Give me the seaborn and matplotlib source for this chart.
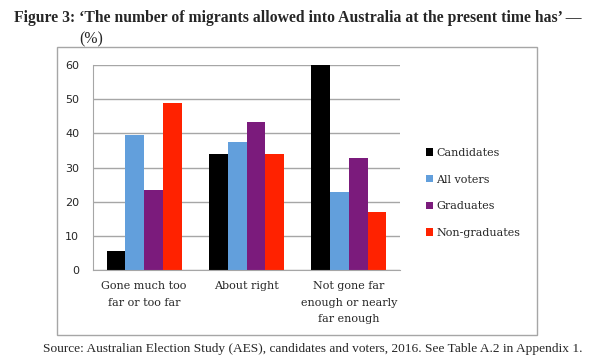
import numpy as np
import matplotlib
matplotlib.use("Agg")
import matplotlib.pyplot as plt
import seaborn as sns
import pandas as pd
from matplotlib.patches import Rectangle
from matplotlib.ticker import FixedLocator

categories = ["Gone much too\nfar or too far", "About right",
              "Not gone far\nenough or nearly\nfar enough"]
groups = ["Candidates", "All voters", "Graduates", "Non-graduates"]
candidates = [5.6, 33.9, 60.1]
all_voters = [39.4, 37.4, 22.8]
graduates = [23.3, 43.4, 32.7]
non_graduates = [48.8, 33.9, 16.9]
colours = ["#000000", "#629FDC", "#7B1B7C", "#FF2200"]

rows = []
for g, vals in zip(groups, [candidates, all_voters, graduates, non_graduates]):
    for c, v in zip(categories, vals):
        rows.append({"category": c, "group": g, "pct": v})
df = pd.DataFrame(rows)

sns.set_style("white")
fig = plt.figure(figsize=(5.93, 3.62), dpi=100)
ax = fig.add_axes([93/593, 1-270/362, (400-93)/593, (270-65)/362])

sns.barplot(data=df, x="category", y="pct", hue="group", order=categories,
            hue_order=groups, palette=colours, width=0.73, linewidth=0,
            saturation=1, ax=ax, legend=True)

ax.set_ylim(0, 60)
ax.set_xlim(-0.5, 2.5)
ax.set_yticks(np.arange(0, 61, 10))
ax.yaxis.grid(True, color="#A6A6A6", linewidth=1)
ax.set_axisbelow(True)
for s in ["top", "right"]:
    ax.spines[s].set_visible(False)
ax.spines["left"].set_color("#A6A6A6")
ax.spines["bottom"].set_color("#A6A6A6")
ax.tick_params(axis="y", length=4, color="#A6A6A6", labelsize=8, pad=6)
ax.tick_params(axis="x", which="major", length=0, pad=8)
ax.xaxis.set_minor_locator(FixedLocator([-0.5, 0.5, 1.5, 2.5]))
ax.tick_params(axis="x", which="minor", length=4, color="#A6A6A6")
for lab in ax.get_yticklabels():
    lab.set_family("DejaVu Sans")
for lab in ax.get_xticklabels():
    lab.set_family("DejaVu Serif")
    lab.set_fontsize(8)
    lab.set_linespacing(1.8)
ax.set_xlabel("")
ax.set_ylabel("")

leg = ax.legend(loc="center left", bbox_to_anchor=(416/593, 1-193/362),
                bbox_transform=fig.transFigure, frameon=False,
                prop={"family": "DejaVu Serif", "size": 8},
                handlelength=0.65, handleheight=0.65, handletextpad=0.25,
                labelspacing=1.5)

fig.patches.append(Rectangle((57/593, 1-335/362), (537-57)/593, (335-47)/362,
                             transform=fig.transFigure, fill=False,
                             edgecolor="#A6A6A6", linewidth=1))

fig.text(14/593, 1-18/362,
         "Figure 3: \u2018The number of migrants allowed into Australia at the present time has\u2019 \u2014",
         family="Liberation Serif", weight="bold", size=11.3, va="center", ha="left")
fig.text(79/593, 1-39/362, "(%)", family="Liberation Serif", size=11.3,
         va="center", ha="left")
fig.text(43/593, 1-349/362,
         "Source: Australian Election Study (AES), candidates and voters, 2016. See Table A.2 in Appendix 1.",
         family="Liberation Serif", size=9.6, va="center", ha="left")

fig.savefig("out.png", dpi=100)
